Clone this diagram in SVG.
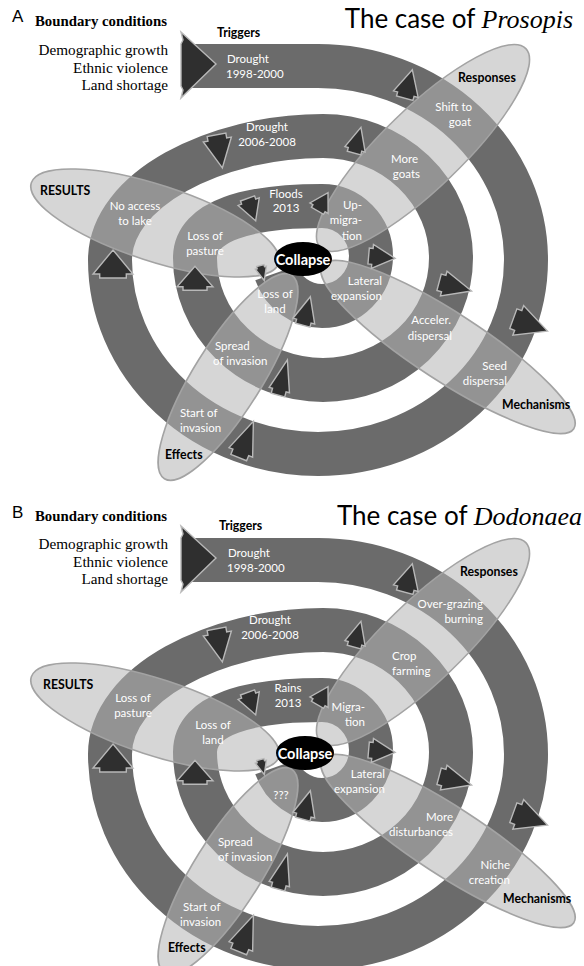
<svg xmlns="http://www.w3.org/2000/svg" xmlns:xlink="http://www.w3.org/1999/xlink" width="584" height="966" viewBox="0 0 584 966">
<style>
.band{fill:none;stroke:#6b6b6b;stroke-width:44;stroke-linecap:butt;stroke-linejoin:round}
.ell{fill:#b4b4b4;fill-opacity:.55;stroke:#a3a3a3;stroke-width:1.6}
.arr{fill:#2f2f2f;stroke:#b8b8b8;stroke-width:1.4}
.lbl{font-family:Lato,"Open Sans",sans-serif;font-size:11.5px;fill:#fff}
.hd{font-family:Lato,"Open Sans",sans-serif;font-size:12.3px;font-weight:bold;fill:#000}
.ser{font-family:"Liberation Serif",serif;fill:#000}
.col{font-family:Lato,"Open Sans",sans-serif;font-size:14.5px;font-weight:bold;fill:#fff}
.end{text-anchor:end}
.mid{text-anchor:middle}
</style>
<defs>
<path id="spiral" d="M 190,66 L 318,66 A 208 194 0 0 1 526,260 A 208 194 0 0 1 318,454 A 208 194 0 0 1 110,260 C 110,190 215,136 323,136 A 128 122 0 0 1 451,258 A 128 122 0 0 1 323,380 A 128 122 0 0 1 195,258 C 195,220 250,206 322,206 A 49 50 0 0 1 371,256 A 49 50 0 0 1 322,306 A 49 50 0 0 1 276,273"/>
<path id="ar" d="M0,-16 L15,8 L10,8 L10,12 L-10,12 L-10,8 L-15,8 Z" vector-effect="non-scaling-stroke"/>
<polygon id="trig" points="181,32 216,64 181,98 183,90 181,86 181,44 183,40"/>
<g id="arrowset" class="arr">
<use xlink:href="#ar" transform="translate(408,86) rotate(15) scale(0.85,1.05)"/>
<use xlink:href="#ar" transform="translate(357,142) rotate(15) scale(0.7,0.95)"/>
<use xlink:href="#ar" transform="translate(219,149) rotate(170) scale(0.95,1.2)"/>
<use xlink:href="#ar" transform="translate(251,208) rotate(160) scale(0.75,0.85)"/>
<use xlink:href="#ar" transform="translate(322,203) rotate(30) scale(0.7,0.75)"/>
<use xlink:href="#ar" transform="translate(380,257) rotate(95) scale(0.8,0.95)"/>
<use xlink:href="#ar" transform="translate(453,286) rotate(105) scale(0.85,1.2)"/>
<use xlink:href="#ar" transform="translate(528,324) rotate(110) scale(1.05,1.3)"/>
<use xlink:href="#ar" transform="translate(306,313) rotate(15) scale(0.75,1.05)"/>
<use xlink:href="#ar" transform="translate(282,380) rotate(15) scale(0.7,1.3)"/>
<use xlink:href="#ar" transform="translate(245,442) rotate(22) scale(0.85,1.4)"/>
<use xlink:href="#ar" transform="translate(113,266) scale(1.33,1)"/>
<use xlink:href="#ar" transform="translate(195,280) scale(1.2,0.85)"/>
<use xlink:href="#ar" transform="translate(262,272) rotate(165) scale(0.38,0.55)"/>
</g>
</defs>

<g id="panelA">
  <g id="A-connectors">
    <use xlink:href="#spiral" class="band"/>
    <use xlink:href="#trig" class="arr"/>
  </g>
  <g id="A-boundary">
    <text x="12" y="22" font-family="Liberation Sans,sans-serif" font-size="17">A</text>
    <text x="35" y="26" class="ser" font-weight="bold" font-size="14.8">Boundary conditions</text>
    <text class="ser end" font-size="15.2"><tspan x="168" y="55">Demographic growth</tspan><tspan x="168" y="72.5">Ethnic violence</tspan><tspan x="168" y="90">Land shortage</tspan></text>
  </g>
  <g id="A-title">
    <text x="573" y="28" class="end"><tspan font-family="Lato,sans-serif" font-size="26">The case of </tspan><tspan font-family="Liberation Serif,serif" font-style="italic" font-size="26">Prosopis</tspan></text>
  </g>
  <g id="A-triggers">
    <text x="217" y="37" class="hd" font-size="12">Triggers</text>
    <text class="lbl"><tspan x="227" y="63">Drought</tspan><tspan x="226" y="78">1998-2000</tspan></text>
    <text class="lbl mid"><tspan x="267" y="131">Drought</tspan><tspan x="267" y="146">2006-2008</tspan></text>
    <text class="lbl mid"><tspan x="286" y="198">Floods</tspan><tspan x="286" y="212">2013</tspan></text>
  </g>
  <g id="A-responses">
    <ellipse class="ell" cx="423" cy="148" rx="143" ry="40" transform="rotate(-44 423 148)"/>
    <text x="458" y="82" class="hd">Responses</text>
    <text class="lbl end"><tspan x="472" y="111">Shift to</tspan><tspan x="471" y="126">goat</tspan></text>
    <text class="lbl end"><tspan x="418" y="163">More</tspan><tspan x="420" y="178">goats</tspan></text>
    <text class="lbl end"><tspan x="362" y="209">Up-</tspan><tspan x="362" y="224">migra-</tspan><tspan x="362" y="240">tion</tspan></text>
  </g>
  <g id="A-mechanisms">
    <ellipse class="ell" cx="448" cy="347" rx="150" ry="34" transform="rotate(33 448 347)"/>
    <text x="502" y="409" class="hd">Mechanisms</text>
    <text class="lbl end"><tspan x="382" y="285">Lateral</tspan><tspan x="382" y="300">expansion</tspan></text>
    <text class="lbl end"><tspan x="451" y="324">Acceler.</tspan><tspan x="452" y="340">dispersal</tspan></text>
    <text class="lbl end"><tspan x="507" y="370">Seed</tspan><tspan x="507" y="385">dispersal</tspan></text>
  </g>
  <g id="A-results">
    <ellipse class="ell" cx="155" cy="223" rx="130" ry="38" transform="rotate(18 155 223)"/>
    <text x="40" y="195" class="hd">RESULTS</text>
    <text class="lbl mid"><tspan x="135" y="210">No access</tspan><tspan x="135" y="225">to lake</tspan></text>
    <text class="lbl mid"><tspan x="205" y="240">Loss of</tspan><tspan x="205" y="255">pasture</tspan></text>
  </g>
  <g id="A-effects">
    <ellipse class="ell" cx="228" cy="377" rx="120" ry="34" transform="rotate(-58 228 377)"/>
    <text x="165" y="459" class="hd">Effects</text>
    <text class="lbl mid"><tspan x="275" y="298">Loss of</tspan><tspan x="275" y="313">land</tspan></text>
    <text class="lbl"><tspan x="215" y="350">Spread</tspan><tspan x="213" y="365">of invasion</tspan></text>
    <text class="lbl"><tspan x="180" y="417">Start of</tspan><tspan x="180" y="432">invasion</tspan></text>
  </g>
  <g id="A-arrows"><use xlink:href="#arrowset"/></g>
  <g id="A-collapse">
    <ellipse cx="303" cy="259" rx="29" ry="17" fill="#000"/>
    <text x="303" y="265" class="col mid">Collapse</text>
  </g>
</g>

<g id="panelB" transform="translate(0,494)">
  <g id="B-connectors">
    <use xlink:href="#spiral" class="band"/>
    <use xlink:href="#trig" class="arr"/>
  </g>
  <g id="B-boundary">
    <text x="12" y="24" font-family="Liberation Sans,sans-serif" font-size="17">B</text>
    <text x="35" y="27" class="ser" font-weight="bold" font-size="14.8">Boundary conditions</text>
    <text class="ser end" font-size="15.2"><tspan x="168" y="55">Demographic growth</tspan><tspan x="168" y="72.5">Ethnic violence</tspan><tspan x="168" y="90">Land shortage</tspan></text>
  </g>
  <g id="B-title">
    <text x="582" y="31" class="end"><tspan font-family="Lato,sans-serif" font-size="26">The case of </tspan><tspan font-family="Liberation Serif,serif" font-style="italic" font-size="26">Dodonaea</tspan></text>
  </g>
  <g id="B-triggers">
    <text x="219" y="36" class="hd" font-size="12">Triggers</text>
    <text class="lbl"><tspan x="228" y="63">Drought</tspan><tspan x="227" y="78">1998-2000</tspan></text>
    <text class="lbl mid"><tspan x="270" y="130">Drought</tspan><tspan x="270" y="145">2006-2008</tspan></text>
    <text class="lbl mid"><tspan x="288" y="198">Rains</tspan><tspan x="288" y="213">2013</tspan></text>
  </g>
  <g id="B-responses">
    <ellipse class="ell" cx="423" cy="148" rx="143" ry="40" transform="rotate(-44 423 148)"/>
    <text x="460" y="82" class="hd">Responses</text>
    <text class="lbl end"><tspan x="483" y="114">Over-grazing</tspan><tspan x="483" y="129">burning</tspan></text>
    <text class="lbl"><tspan x="392" y="166">Crop</tspan><tspan x="392" y="181">farming</tspan></text>
    <text class="lbl end"><tspan x="365" y="217">Migra-</tspan><tspan x="365" y="232">tion</tspan></text>
  </g>
  <g id="B-mechanisms">
    <ellipse class="ell" cx="448" cy="347" rx="150" ry="34" transform="rotate(33 448 347)"/>
    <text x="503" y="409" class="hd">Mechanisms</text>
    <text class="lbl end"><tspan x="385" y="284">Lateral</tspan><tspan x="385" y="299">expansion</tspan></text>
    <text class="lbl end"><tspan x="453" y="327">More</tspan><tspan x="453" y="342">disturbances</tspan></text>
    <text class="lbl end"><tspan x="510" y="375">Niche</tspan><tspan x="510" y="390">creation</tspan></text>
  </g>
  <g id="B-results">
    <ellipse class="ell" cx="155" cy="223" rx="130" ry="38" transform="rotate(18 155 223)"/>
    <text x="43" y="195" class="hd">RESULTS</text>
    <text class="lbl mid"><tspan x="133" y="208">Loss of</tspan><tspan x="133" y="223">pasture</tspan></text>
    <text class="lbl mid"><tspan x="213" y="235">Loss of</tspan><tspan x="213" y="250">land</tspan></text>
  </g>
  <g id="B-effects">
    <ellipse class="ell" cx="228" cy="377" rx="120" ry="34" transform="rotate(-58 228 377)"/>
    <text x="168" y="458" class="hd">Effects</text>
    <text x="281" y="305" class="lbl mid">???</text>
    <text class="lbl"><tspan x="218" y="352">Spread</tspan><tspan x="218" y="367">of invasion</tspan></text>
    <text class="lbl"><tspan x="183" y="417">Start of</tspan><tspan x="180" y="432">invasion</tspan></text>
  </g>
  <g id="B-arrows"><use xlink:href="#arrowset"/></g>
  <g id="B-collapse">
    <ellipse cx="305" cy="259" rx="29" ry="17" fill="#000"/>
    <text x="305" y="265" class="col mid">Collapse</text>
  </g>
</g>
</svg>
